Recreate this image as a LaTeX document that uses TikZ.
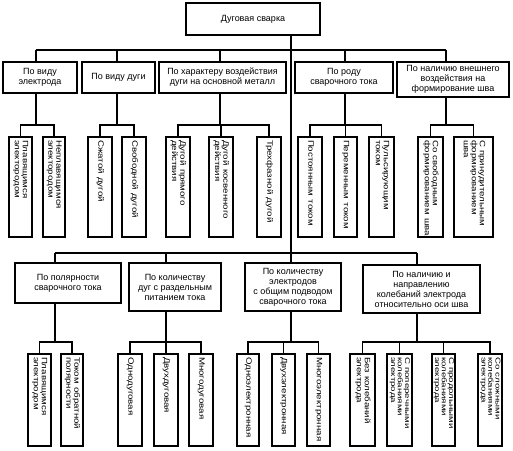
\documentclass[tikz,border=0pt]{standalone}
\usepackage{fontspec}
\usepackage{graphicx}
\setmainfont{Liberation Sans}
\newcommand\vtxt[1]{\scalebox{1}[0.8]{\begin{tabular}{@{}l@{}}#1\end{tabular}}}
\newcommand\vtxtc[1]{\scalebox{1}[0.72]{\fontsize{9.7}{9.4}\selectfont\begin{tabular}{@{}l@{}}#1\end{tabular}}}
\begin{document}
\begin{tikzpicture}[x=1pt,y=-1pt,
  box/.style={draw, line width=1.5pt, inner sep=1pt, align=center, font=\fontsize{9}{10}\selectfont},
  vbox/.style={draw, line width=1.5pt, rotate=-90, inner xsep=3pt, inner ysep=0pt, align=left, font=\fontsize{9.7}{10}\selectfont},
  topv/.style={vbox, minimum width=100pt, text width=94pt},
  lowv/.style={vbox, minimum width=92pt, text width=86pt},
  conn/.style={line width=1.5pt}]
\useasboundingbox (0,0) rectangle (513,450);

% root
\node[box, minimum width=134pt, minimum height=32pt] (root) at (253,19) {Дуговая сварка};

% upper level
\node[box, minimum width=74pt,  minimum height=31pt] (T1) at (40,77.5)  {По виду\\электрода};
\node[box, minimum width=73pt,  minimum height=31pt] (T2) at (118.5,77.5) {По виду дуги};
\node[box, minimum width=127pt, minimum height=31pt] (T3) at (222.5,77.5) {По характеру воздействия\\дуги на основной металл};
\node[box, minimum width=98pt,  minimum height=31pt] (T4) at (344,77.5) {По роду\\сварочного тока};
\node[box, minimum width=112pt, minimum height=35pt] (T5) at (453,79.5) {По наличию внешнего\\воздействия на\\формирование шва};

% upper children
\node[topv, minimum height=23pt] (a1) at (20.5,187) {\vtxt{Плавящимся\\электородом}};
\node[topv, minimum height=22pt] (a2) at (54,187) {\vtxt{Неплавящимся\\электородом}};
\node[topv, minimum height=24pt] (b1) at (100,187) {\vtxt{Сжатой дугой}};
\node[topv, minimum height=24pt] (b2) at (134,187) {\vtxt{Свободной дугой}};
\node[topv, minimum height=24pt] (c1) at (178,187) {\vtxt{Дугой прямого\\действия}};
\node[topv, minimum height=24pt] (c2) at (221,187) {\vtxt{Дугой косвенного\\действия}};
\node[topv, minimum height=24pt] (c3) at (269,187) {\vtxt{Трехфазной дугой}};
\node[topv, minimum height=24pt] (d1) at (310,187) {\vtxt{Постоянным током}};
\node[topv, minimum height=23pt] (d2) at (345.5,187) {\vtxt{Переменным током}};
\node[topv, minimum height=25pt] (d3) at (381.5,187) {\vtxt{Пульсирующим\\током}};
\node[topv, minimum height=25pt] (e1) at (430.5,187) {\vtxt{Со свободным\\формированием шва}};
\node[topv, minimum height=39pt] (e2) at (473.5,187) {\vtxt{С принудительным\\формированием\\шва}};

% lower level
\node[box, minimum width=106pt, minimum height=40pt] (A) at (68,283) {По полярности\\сварочного тока};
\node[box, minimum width=92pt,  minimum height=48pt] (B) at (175,287) {По количеству\\дуг с раздельным\\питанием тока};
\node[box, minimum width=96pt,  minimum height=48pt] (C) at (293,287) {По количеству\\электродов\\с общим подводом\\сварочного тока};
\node[box, minimum width=117pt, minimum height=48pt] (D) at (421.5,289) {По наличию и\\направлению\\колебаний электрода\\относительно оси шва};

% lower children
\node[lowv, minimum height=23pt] (p1) at (39.5,400) {\vtxt{Плавящимся\\электродом}};
\node[lowv, minimum height=22pt] (p2) at (72,400) {\vtxt{Током обратной\\полярности}};
\node[lowv, minimum height=24pt] (q1) at (130,400) {\vtxt{Однодуговая}};
\node[lowv, minimum height=24pt] (q2) at (166,400) {\vtxt{Двухдуговая}};
\node[lowv, minimum height=24pt] (q3) at (201,400) {\vtxt{Многодуговая}};
\node[lowv, minimum height=22pt] (r1) at (248,400) {\vtxt{Одноэлектронная}};
\node[lowv, minimum height=23pt] (r2) at (283.5,400) {\vtxt{Двухэлектронная}};
\node[lowv, minimum height=23pt] (r3) at (318.5,400) {\vtxt{Многоэлектронная}};
\node[lowv, minimum height=25pt] (s1) at (362.5,400) {\vtxt{Без колебаний\\электрода}};
\node[lowv, minimum height=25pt] (s2) at (399.5,400) {\vtxtc{С поперечными\\колебаниями\\электрода}};
\node[lowv, minimum height=23pt] (s3) at (443.5,400) {\vtxtc{С продольными\\колебаниями\\электрода}};
\node[lowv, minimum height=24pt] (s4) at (490,400) {\vtxtc{Со сложными\\колебаниями\\электрода}};

% bus levels and connection points
\coordinate (topbus) at (0,50);
\coordinate (topsub) at (0,125);
\coordinate (lowbus) at (0,253);
\coordinate (lowsub) at (0,342);
\coordinate (trunk) at (291,0);
\coordinate (T1c) at ([xshift=-4pt]T1.north);
\coordinate (T2c) at ([xshift=-1.5pt]T2.north);
\coordinate (T3c) at ([xshift=-2.5pt]T3.north);
\coordinate (T4c) at ([xshift=1pt]T4.north);
\coordinate (T5c) at ([xshift=-7pt]T5.north);
\coordinate (Ac) at ([xshift=-13pt]A.north);
\coordinate (Bc) at ([xshift=-9pt]B.north);
\coordinate (Cc) at (C.north -| trunk);
\coordinate (Dc) at ([xshift=-4.5pt]D.north);

% trunk
\draw[conn] (root.south -| trunk) -- (Cc);

% upper bus
\draw[conn] (T1c |- topbus) -- (T5c |- topbus);
\foreach \n in {T1c,T2c,T3c,T4c,T5c} \draw[conn] (\n |- topbus) -- (\n);

% upper groups
\draw[conn] (T1.south -| T1c) -- (T1c |- topsub);
\draw[conn] (a1.west) |- (a2.west |- topsub) -- (a2.west);
\draw[conn] (T2.south -| T2c) -- (T2c |- topsub);
\draw[conn] (b1.west) |- (b2.west |- topsub) -- (b2.west);
\draw[conn] (T3.south -| T3c) -- (T3c |- topsub);
\draw[conn] (c1.west) |- (c3.west |- topsub) -- (c3.west);
\draw[conn] (c2.west) -- (c2.west |- topsub);
\draw[conn] (T4.south -| T4c) -- (T4c |- topsub);
\draw[conn] (d1.west) |- (d3.west |- topsub) -- (d3.west);
\draw[conn] (d2.west) -- (d2.west |- topsub);
\draw[conn] (T5.south -| T5c) -- (T5c |- topsub);
\draw[conn] (e1.west) |- (e2.west |- topsub) -- (e2.west);

% lower bus
\draw[conn] (Ac |- lowbus) -- (Dc |- lowbus);
\foreach \n in {Ac,Bc,Dc} \draw[conn] (\n |- lowbus) -- (\n);

% lower groups
\draw[conn] (A.south -| Ac) -- (Ac |- lowsub);
\draw[conn] (p1.west) |- (p2.west |- lowsub) -- (p2.west);
\draw[conn] (B.south -| Bc) -- (Bc |- lowsub);
\draw[conn] (q1.west) |- (q3.west |- lowsub) -- (q3.west);
\draw[conn] (q2.west) -- (q2.west |- lowsub);
\draw[conn] (C.south -| trunk) -- (trunk |- lowsub);
\draw[conn] (r1.west) |- (r3.west |- lowsub) -- (r3.west);
\draw[conn] (r2.west) -- (r2.west |- lowsub);
\draw[conn] (D.south -| Dc) -- (Dc |- lowsub);
\draw[conn] (s1.west) |- (s4.west |- lowsub) -- (s4.west);
\draw[conn] (s2.west) -- (s2.west |- lowsub);
\draw[conn] (s3.west) -- (s3.west |- lowsub);
\end{tikzpicture}
\end{document}
